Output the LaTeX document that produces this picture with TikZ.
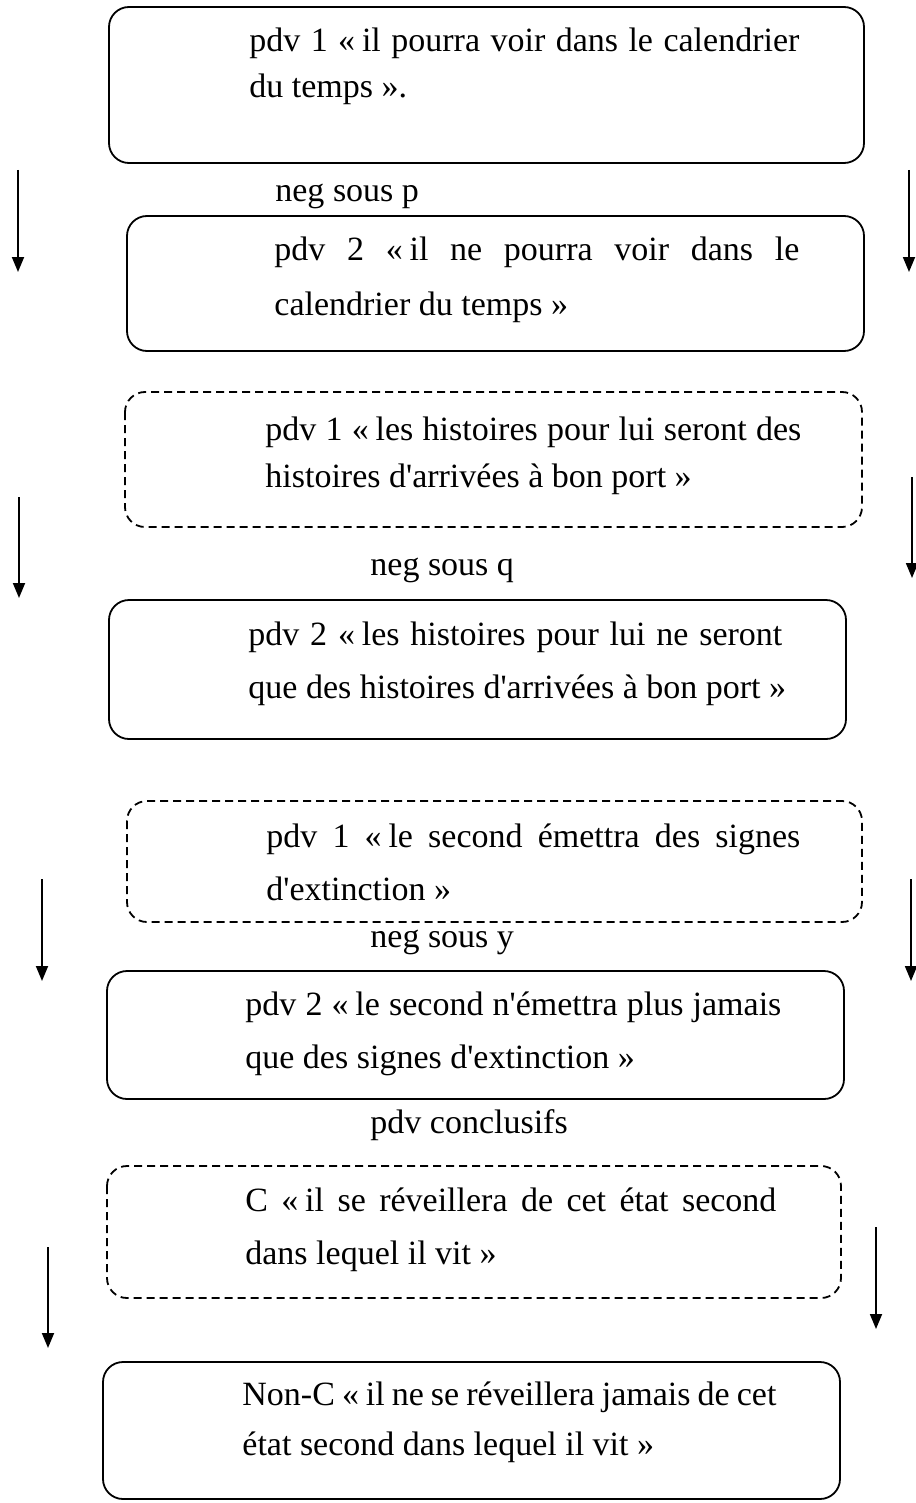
\documentclass[tikz,border=0pt]{standalone}
\usepackage{fontspec}
\setmainfont{Liberation Serif}
\usetikzlibrary{arrows.meta}

% one justified (stretched) line of a box
\newcommand{\fullline}[2]{\makebox[#1][s]{#2}}
% straight apostrophe as printed
\newcommand{\apo}{\textquotesingle}

\begin{document}
\begin{tikzpicture}[
    x=0.5pt, y=-0.5pt,
    every node/.style={font=\fontsize{17}{20}\selectfont, inner sep=0pt, anchor=base west},
    >={Triangle[length=7.5pt, width=6pt]},
    pdvbox/.style={draw, line width=0.9pt, rounded corners=10pt},
    dashbox/.style={pdvbox, dash pattern=on 4pt off 2.5pt},
    downarrow/.style={->, line width=0.9pt},
]
\useasboundingbox (0,0) rectangle (915,1503);

% === pdv 1 / pdv 2 : p ===
\draw[pdvbox] (109,7) rectangle (864,163);
\node (p1a) at (249,52) {\fullline{275pt}{pdv 1 «\kern.2em il pourra voir dans le calendrier}};
\node (p1b) at (249,98) {du temps ».};

\node (negp) at (275,202) {neg sous p};

\draw[pdvbox] (127,216) rectangle (864,351);
\node (p2a) at (274,260) {\fullline{262.5pt}{pdv 2 «\kern.2em il ne pourra voir dans le}};
\node (p2b) at (274,315) {calendrier du temps »};

\coordinate (pLs) at (18,170);  \coordinate (pLe) at (18,272);
\coordinate (pRs) at (909,170); \coordinate (pRe) at (909,272);
\draw[downarrow] (pLs) -- (pLe);
\draw[downarrow] (pRs) -- (pRe);

% === pdv 1 / pdv 2 : q ===
\draw[dashbox] (125,392) rectangle (862,527);
\node (q1a) at (265,440) {\fullline{268pt}{pdv 1 «\kern.2em les histoires pour lui seront des}};
\node (q1b) at (265,487) {histoires d\apo arrivées à bon port »};

\node (negq) at (370,575) {neg sous q};

\draw[pdvbox] (109,600) rectangle (846,739);
\node (q2a) at (248,645) {\fullline{267pt}{pdv 2 «\kern.2em les histoires pour lui ne seront}};
\node (q2b) at (248,698) {que des histoires d\apo arrivées à bon port »};

\coordinate (qLs) at (19,497);  \coordinate (qLe) at (19,598);
\coordinate (qRs) at (912,477); \coordinate (qRe) at (912,578);
\draw[downarrow] (qLs) -- (qLe);
\draw[downarrow] (qRs) -- (qRe);

% === pdv 1 / pdv 2 : y ===
\draw[dashbox] (127,801) rectangle (862,922);
\node (y1a) at (266,847) {\fullline{267pt}{pdv 1 «\kern.2em le second émettra des signes}};
\node (y1b) at (266,900) {d\apo extinction »};

\node (negy) at (370,947) {neg sous y};

\draw[pdvbox] (107,971) rectangle (844,1099);
\node (y2a) at (245,1015) {\fullline{268pt}{pdv 2 «\kern.2em le second n\apo émettra plus jamais}};
\node (y2b) at (245,1068) {que des signes d\apo extinction »};

\coordinate (yLs) at (42,879);  \coordinate (yLe) at (42,981);
\coordinate (yRs) at (911,879); \coordinate (yRe) at (911,981);
\draw[downarrow] (yLs) -- (yLe);
\draw[downarrow] (yRs) -- (yRe);

% === pdv conclusifs ===
\node (concl) at (370,1133) {pdv conclusifs};

\draw[dashbox] (107,1166) rectangle (841,1298);
\node (c1a) at (245,1211) {\fullline{265.5pt}{C «\kern.2em il se réveillera de cet état second}};
\node (c1b) at (245,1264) {dans lequel il vit »};

\draw[pdvbox] (103,1362) rectangle (840,1499);
\node (c2a) at (242,1405) {\fullline{267pt}{Non-C «\kern.2em il ne se réveillera jamais de cet}};
\node (c2b) at (242,1455) {état second dans lequel il vit »};

\coordinate (cLs) at (48,1247);  \coordinate (cLe) at (48,1348);
\coordinate (cRs) at (876,1227); \coordinate (cRe) at (876,1329);
\draw[downarrow] (cLs) -- (cLe);
\draw[downarrow] (cRs) -- (cRe);

\end{tikzpicture}
\end{document}
